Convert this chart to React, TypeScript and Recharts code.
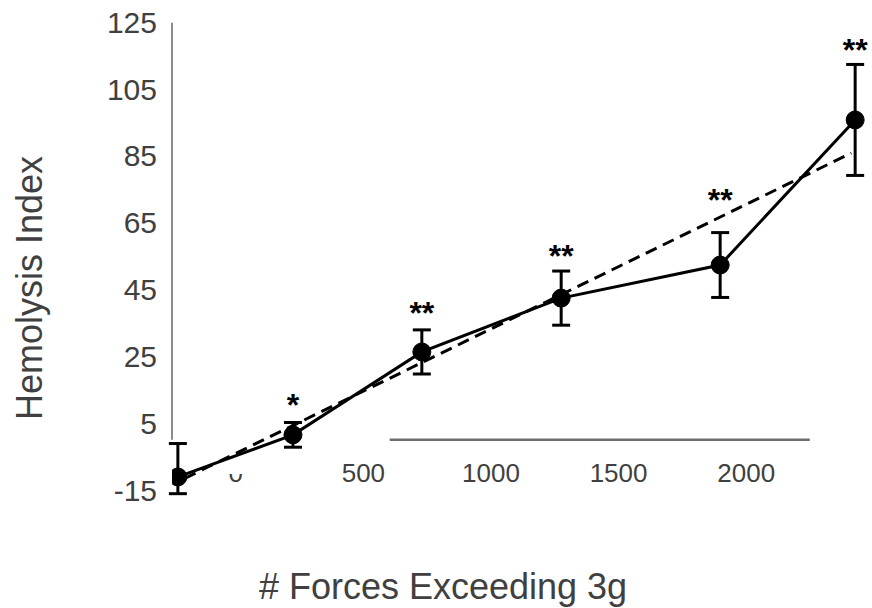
import React from 'react';
import {
  ComposedChart,
  Line,
  Scatter,
  XAxis,
  YAxis,
  ErrorBar,
  ReferenceLine,
  Label,
} from 'recharts';

// (x in # forces, y in hemolysis index)
const forces = [-227, 224, 729, 1275, 1898, 2427];
const hemolysis = [-11.1, 1.5, 26.3, 42.4, 52.3, 95.7];
const errLow = [5, 3.7, 6.6, 8.1, 9.7, 16.6];
const errHigh = [10, 3.7, 6.6, 8.1, 9.7, 16.6];
const sigLabels = ['', '*', '**', '**', '**', '**'];
const sigHeight = [0, 12.5, 40.0, 57.1, 73.8, 118.7];

// dashed trend line end points
const trendForces = [-200, 2412];
const trendHemolysis = [-11.5, 85.8];

const xTicks = [0, 500, 1000, 1500, 2000];
const yTicks = [-15, 5, 25, 45, 65, 85, 105, 125];

const FONT = '"Liberation Sans", Arial, sans-serif';
const TEXT = '#404040';
const AXIS = '#8c8c8c';

const points = forces.map((x, i) => ({
  x,
  y: hemolysis[i],
  err: [errLow[i], errHigh[i]],
}));

const trend = trendForces.map((x, i) => ({ x, y: trendHemolysis[i] }));

const stars = forces
  .map((x, i) => ({ x, y: sigHeight[i], sig: sigLabels[i] }))
  .filter((d) => d.sig !== '');

// eslint-disable-next-line @typescript-eslint/no-explicit-any
const XTick = (props: any) => {
  const { x, y, payload } = props;
  const v = payload?.value;
  const ty = y - 16;
  if (v === 0) {
    // the 0 label is mostly hidden in the original
    return (
      <g>
        <defs>
          <clipPath id="zero-clip">
            <rect x={x - 15} y={ty - 8} width={30} height={14} />
          </clipPath>
        </defs>
        <text x={x} y={ty} textAnchor="middle" fontSize={26} fontFamily={FONT} fill={TEXT} clipPath="url(#zero-clip)">
          {v}
        </text>
      </g>
    );
  }
  return (
    <text x={x} y={ty} textAnchor="middle" fontSize={26} fontFamily={FONT} fill={TEXT}>
      {v}
    </text>
  );
};

// eslint-disable-next-line @typescript-eslint/no-explicit-any
const StarShape = (props: any) => {
  const { cx, cy, payload } = props;
  return (
    <text x={cx} y={cy + 18} textAnchor="middle" fontSize={32} fontWeight={700} fontFamily={FONT} fill="#000">
      {payload.sig}
    </text>
  );
};

const yTitle = () => (
  <text
    x={42}
    y={288}
    transform="rotate(-90, 42, 288)"
    textAnchor="middle"
    fontSize={36}
    fontFamily={FONT}
    fill={TEXT}
  >
    Hemolysis Index
  </text>
);

const xTitle = () => (
  <text x={443} y={599} textAnchor="middle" fontSize={36} fontFamily={FONT} fill={TEXT}>
    # Forces Exceeding 3g
  </text>
);

export default function App() {
  return (
    <div style={{ position: 'absolute', left: 0, top: 0, width: 872, height: 608, background: '#fff' }}>
      <ComposedChart width={872} height={608} margin={{ top: 22, right: 0, bottom: 0, left: 0 }}>
        <XAxis
          type="number"
          dataKey="x"
          domain={[-250, 2493]}
          ticks={xTicks}
          axisLine={false}
          tickLine={false}
          height={118}
          tick={XTick}
          allowDataOverflow
        >
          <Label content={xTitle} />
        </XAxis>
        <YAxis
          type="number"
          dataKey="y"
          domain={[-15, 125]}
          ticks={yTicks}
          axisLine={false}
          tickLine={false}
          width={172}
          tickMargin={9}
          tick={{ fontSize: 30, fontFamily: FONT, fill: TEXT }}
          allowDataOverflow
        >
          <Label content={yTitle} />
        </YAxis>
        <ReferenceLine
          segment={[{ x: -250, y: 0 }, { x: -250, y: 124.8 }]}
          stroke={AXIS}
          strokeWidth={2}
          ifOverflow="visible"
        />
        <ReferenceLine
          segment={[{ x: 603, y: 0 }, { x: 2249, y: 0 }]}
          stroke="#6e6e6e"
          strokeWidth={2.5}
          ifOverflow="visible"
        />
        <Line
          data={trend}
          dataKey="y"
          stroke="#000"
          strokeWidth={3}
          strokeDasharray="12 7"
          dot={false}
          isAnimationActive={false}
        />
        <Line
          data={points}
          dataKey="y"
          stroke="#000"
          strokeWidth={3}
          dot={{ r: 9, fill: '#000', stroke: '#000', strokeWidth: 1 }}
          activeDot={false}
          isAnimationActive={false}
        >
          <ErrorBar dataKey="err" direction="y" width={9} stroke="#000" strokeWidth={3} isAnimationActive={false} />
        </Line>
        <Scatter data={stars} dataKey="y" shape={StarShape} isAnimationActive={false} />
      </ComposedChart>
    </div>
  );
}
